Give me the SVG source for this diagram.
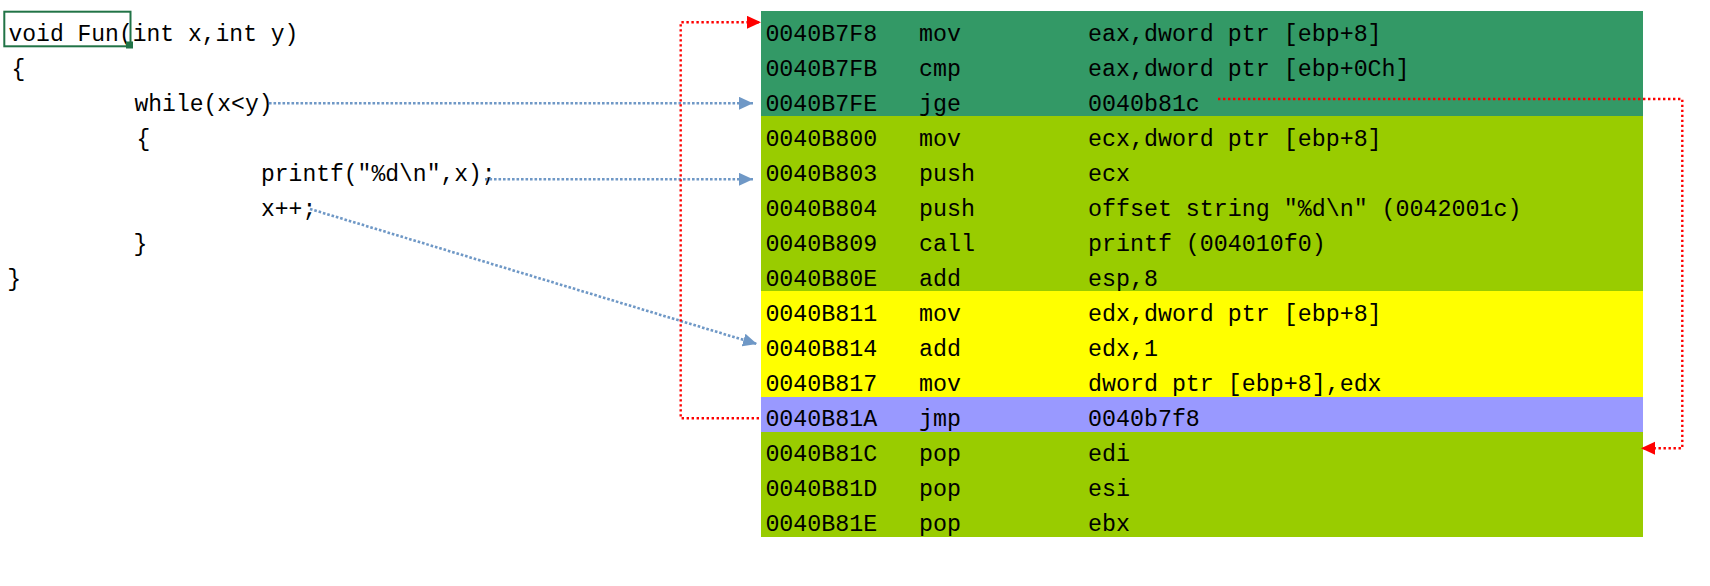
<svg xmlns="http://www.w3.org/2000/svg" width="1710" height="586" viewBox="0 0 1710 586">
<style>
.code{font-family:"Liberation Mono","DejaVu Sans Mono",monospace;font-size:23px;fill:#000;}
.asm{font-family:"Liberation Mono","DejaVu Sans Mono",monospace;font-size:23.3px;fill:#000;}
.row{shape-rendering:crispEdges;}
.dg{fill:#339966;}
.gr{fill:#99CC00;}
.ye{fill:#FFFF00;}
.pu{fill:#9999FF;}
.blue{fill:none;stroke:#6F98C6;stroke-width:2.6;stroke-dasharray:2.6 1.9;}
.red{fill:none;stroke:#FF0000;stroke-width:2.4;stroke-dasharray:2.4 2.6;}
</style>
<defs>
<marker id="ab" markerUnits="userSpaceOnUse" markerWidth="15" markerHeight="14" refX="14" refY="6.5" orient="auto"><path d="M0,0 L14,6.5 L0,13 z" fill="#6F98C6"/></marker>
<marker id="ar" markerUnits="userSpaceOnUse" markerWidth="15" markerHeight="14" refX="14" refY="6.5" orient="auto"><path d="M0,0 L14,6.5 L0,13 z" fill="#FF0000"/></marker>
</defs>
<rect width="1710" height="586" fill="#FFFFFF"/>

<g id="code">
<g id="c0"><text class="code" x="8.5" y="40.5">void Fun(int x,int y)</text></g>
<g id="c1"><text class="code" x="11.4" y="75.5">{</text></g>
<g id="c2"><text class="code" x="134.5" y="110.6">while(x&lt;y)</text></g>
<g id="c3"><text class="code" x="136.4" y="145.6">{</text></g>
<g id="c4"><text class="code" x="261" y="180.7">printf("%d\n",x);</text></g>
<g id="c5"><text class="code" x="261" y="215.7">x++;</text></g>
<g id="c6"><text class="code" x="133.4" y="250.8">}</text></g>
<g id="c7"><text class="code" x="7.3" y="285.8">}</text></g>
<g id="selection"><rect x="4.3" y="11.7" width="126.2" height="34.6" fill="none" stroke="#217346" stroke-width="2"/><rect x="126" y="41.5" width="7" height="7" fill="#217346"/></g>
</g>

<g id="asm">
<g id="r0"><rect class="row dg" x="760.5" y="11" width="882.2" height="35.05"/><text class="asm" x="765.4" y="40.5">0040B7F8</text><text class="asm" x="919" y="40.5">mov</text><text class="asm" x="1088" y="40.5">eax,dword ptr [ebp+8]</text></g>
<g id="r1"><rect class="row dg" x="760.5" y="46.05" width="882.2" height="35.05"/><text class="asm" x="765.4" y="75.5">0040B7FB</text><text class="asm" x="919" y="75.5">cmp</text><text class="asm" x="1088" y="75.5">eax,dword ptr [ebp+0Ch]</text></g>
<g id="r2"><rect class="row dg" x="760.5" y="81.1" width="882.2" height="35.05"/><text class="asm" x="765.4" y="110.6">0040B7FE</text><text class="asm" x="919" y="110.6">jge</text><text class="asm" x="1088" y="110.6">0040b81c</text></g>
<g id="r3"><rect class="row gr" x="760.5" y="116.15" width="882.2" height="35.05"/><text class="asm" x="765.4" y="145.6">0040B800</text><text class="asm" x="919" y="145.6">mov</text><text class="asm" x="1088" y="145.6">ecx,dword ptr [ebp+8]</text></g>
<g id="r4"><rect class="row gr" x="760.5" y="151.2" width="882.2" height="35.05"/><text class="asm" x="765.4" y="180.7">0040B803</text><text class="asm" x="919" y="180.7">push</text><text class="asm" x="1088" y="180.7">ecx</text></g>
<g id="r5"><rect class="row gr" x="760.5" y="186.25" width="882.2" height="35.05"/><text class="asm" x="765.4" y="215.7">0040B804</text><text class="asm" x="919" y="215.7">push</text><text class="asm" x="1088" y="215.7">offset string "%d\n" (0042001c)</text></g>
<g id="r6"><rect class="row gr" x="760.5" y="221.3" width="882.2" height="35.05"/><text class="asm" x="765.4" y="250.8">0040B809</text><text class="asm" x="919" y="250.8">call</text><text class="asm" x="1088" y="250.8">printf (004010f0)</text></g>
<g id="r7"><rect class="row gr" x="760.5" y="256.35" width="882.2" height="35.05"/><text class="asm" x="765.4" y="285.8">0040B80E</text><text class="asm" x="919" y="285.8">add</text><text class="asm" x="1088" y="285.8">esp,8</text></g>
<g id="r8"><rect class="row ye" x="760.5" y="291.4" width="882.2" height="35.05"/><text class="asm" x="765.4" y="320.9">0040B811</text><text class="asm" x="919" y="320.9">mov</text><text class="asm" x="1088" y="320.9">edx,dword ptr [ebp+8]</text></g>
<g id="r9"><rect class="row ye" x="760.5" y="326.45" width="882.2" height="35.05"/><text class="asm" x="765.4" y="355.9">0040B814</text><text class="asm" x="919" y="355.9">add</text><text class="asm" x="1088" y="355.9">edx,1</text></g>
<g id="r10"><rect class="row ye" x="760.5" y="361.5" width="882.2" height="35.05"/><text class="asm" x="765.4" y="391">0040B817</text><text class="asm" x="919" y="391">mov</text><text class="asm" x="1088" y="391">dword ptr [ebp+8],edx</text></g>
<g id="r11"><rect class="row pu" x="760.5" y="396.55" width="882.2" height="35.05"/><text class="asm" x="765.4" y="426">0040B81A</text><text class="asm" x="919" y="426">jmp</text><text class="asm" x="1088" y="426">0040b7f8</text></g>
<g id="r12"><rect class="row gr" x="760.5" y="431.6" width="882.2" height="35.05"/><text class="asm" x="765.4" y="461.1">0040B81C</text><text class="asm" x="919" y="461.1">pop</text><text class="asm" x="1088" y="461.1">edi</text></g>
<g id="r13"><rect class="row gr" x="760.5" y="466.65" width="882.2" height="35.05"/><text class="asm" x="765.4" y="496.1">0040B81D</text><text class="asm" x="919" y="496.1">pop</text><text class="asm" x="1088" y="496.1">esi</text></g>
<g id="r14"><rect class="row gr" x="760.5" y="501.7" width="882.2" height="35.05"/><text class="asm" x="765.4" y="531.2">0040B81E</text><text class="asm" x="919" y="531.2">pop</text><text class="asm" x="1088" y="531.2">ebx</text></g>
</g>

<g id="connectors">
<path class="blue" d="M269,103.3 L753,103.3" marker-end="url(#ab)"/>
<path class="blue" d="M485,179.3 L753,179.3" marker-end="url(#ab)"/>
<path class="blue" d="M310,209 L757,344" marker-end="url(#ab)"/>
<path class="red" d="M759,418.3 L680.7,418.3 L680.7,22.3 L761,22.3" marker-end="url(#ar)"/>
<path class="red" d="M1218,99 L1682.3,99 L1682.3,448.3 L1641,448.3" marker-end="url(#ar)"/>
</g>
</svg>
